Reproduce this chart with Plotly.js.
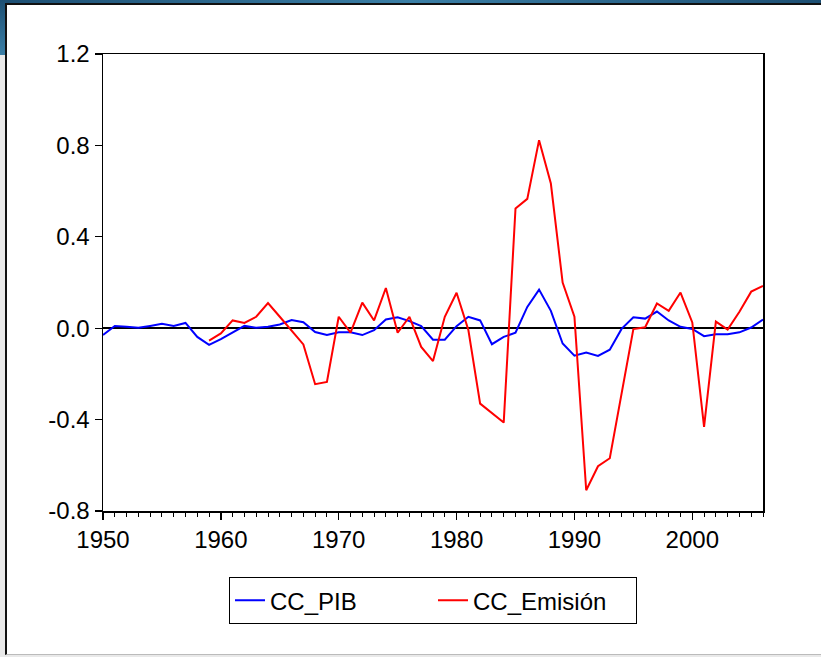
<!DOCTYPE html>
<html>
<head>
<meta charset="utf-8">
<script src="https://cdn.plot.ly/plotly-3.0.1.min.js"></script>
<style>
  html, body { margin:0; padding:0; width:821px; height:657px; overflow:hidden; background:#e9e9e9; }
  #topstrip { position:absolute; left:0; top:0; width:821px; height:3px; background:linear-gradient(90deg,#1d4f73,#3b7fa6 50%,#1d4f73); }
  #leftstrip { position:absolute; left:0; top:0; width:6px; height:55px; background:linear-gradient(180deg,#1d4f73,#3b7fa6); }
  #frame { position:absolute; left:5px; top:3px; width:816px; height:652px; background:#fff; border-left:2px solid #111; border-top:2px solid #111; border-bottom:1px solid #bbb; box-sizing:border-box; }
  #chart { position:absolute; left:0; top:0; width:821px; height:657px; }
</style>
</head>
<body>
<div id="topstrip"></div>
<div id="leftstrip"></div>
<div id="frame"></div>
<div id="chart"></div>
<script>
const years = [];
for (let y = 1950; y <= 2006; y++) years.push(y);

const ccPIB = [
  -0.030, 0.010, 0.006, 0.002, 0.010, 0.019, 0.010, 0.023, -0.038, -0.073,
  -0.048, -0.020, 0.010, 0.002, 0.006, 0.016, 0.036, 0.026, -0.017, -0.030,
  -0.018, -0.018, -0.030, -0.009, 0.038, 0.048, 0.031, 0.009, -0.050, -0.050,
  0.009, 0.050, 0.034, -0.070, -0.038, -0.020, 0.093, 0.169, 0.076, -0.067,
  -0.120, -0.106, -0.121, -0.094, -0.003, 0.048, 0.042, 0.073, 0.034, 0.006,
  -0.003, -0.035, -0.026, -0.026, -0.018, 0.003, 0.038
];

const ccEmision = [
  null, null, null, null, null, null, null, null, null, -0.054,
  -0.023, 0.034, 0.023, 0.050, 0.110, 0.050, -0.012, -0.071, -0.245, -0.235,
  0.050, -0.019, 0.112, 0.034, 0.176, -0.020, 0.050, -0.082, -0.144, 0.050,
  0.155, -0.008, -0.330, -0.370, -0.413, 0.524, 0.566, 0.823, 0.633, 0.200,
  0.050, -0.709, -0.604, -0.569, -0.290, -0.004, 0.004, 0.108, 0.076, 0.156,
  0.025, -0.432, 0.029, -0.006, 0.072, 0.160, 0.185
];

const seriesNames = ["CC_PIB", "CC_Emisión"];
const yTickVals = [-0.8, -0.4, 0.0, 0.4, 0.8, 1.2];
const yTickText = ["-0.8", "-0.4", "0.0", "0.4", "0.8", "1.2"];
const xTickVals = [1950, 1960, 1970, 1980, 1990, 2000];
const xTickText = ["1950", "1960", "1970", "1980", "1990", "2000"];

const FONT = "Liberation Sans, Arial, sans-serif";

const traces = [
  { x: years, y: ccPIB, name: seriesNames[0], type: "scatter", mode: "lines",
    line: { color: "#0000ff", width: 2 } },
  { x: years, y: ccEmision, name: seriesNames[1], type: "scatter", mode: "lines",
    line: { color: "#ff0000", width: 2 } }
];

const layout = {
  width: 821, height: 657,
  margin: { l: 103, r: 58, t: 54, b: 146 },
  paper_bgcolor: "rgba(0,0,0,0)",
  plot_bgcolor: "#ffffff",
  font: { family: FONT, size: 24, color: "#000" },
  showlegend: true,
  legend: {
    orientation: "h", x: 0.5, xanchor: "center", y: -0.145, yanchor: "top",
    bordercolor: "#000", borderwidth: 1, bgcolor: "#fff",
    font: { family: FONT, size: 24, color: "#000" },
    entrywidth: 158, entrywidthmode: "pixels", tracegroupgap: 0
  },
  xaxis: {
    range: [1950, 2006], showgrid: false, zeroline: false,
    showline: true, mirror: true, linecolor: "#000", linewidth: 1.5,
    ticks: "outside", ticklen: 7, tickwidth: 1.3, tickcolor: "#000",
    tickvals: xTickVals, ticktext: xTickText,
    tickfont: { family: FONT, size: 24 },
    minor: { dtick: 1, tick0: 1950, ticks: "outside", ticklen: 4, tickwidth: 1, tickcolor: "#000", showgrid: false }
  },
  yaxis: {
    range: [-0.8, 1.2], showgrid: false,
    zeroline: true, zerolinecolor: "#000", zerolinewidth: 1.5,
    showline: true, mirror: true, linecolor: "#000", linewidth: 1.5,
    ticks: "outside", ticklen: 7, tickwidth: 1.3, tickcolor: "#000",
    tickvals: yTickVals, ticktext: yTickText,
    tickfont: { family: FONT, size: 24 }
  }
};

Plotly.newPlot("chart", traces, layout, { displayModeBar: false, staticPlot: true });
</script>
</body>
</html>
